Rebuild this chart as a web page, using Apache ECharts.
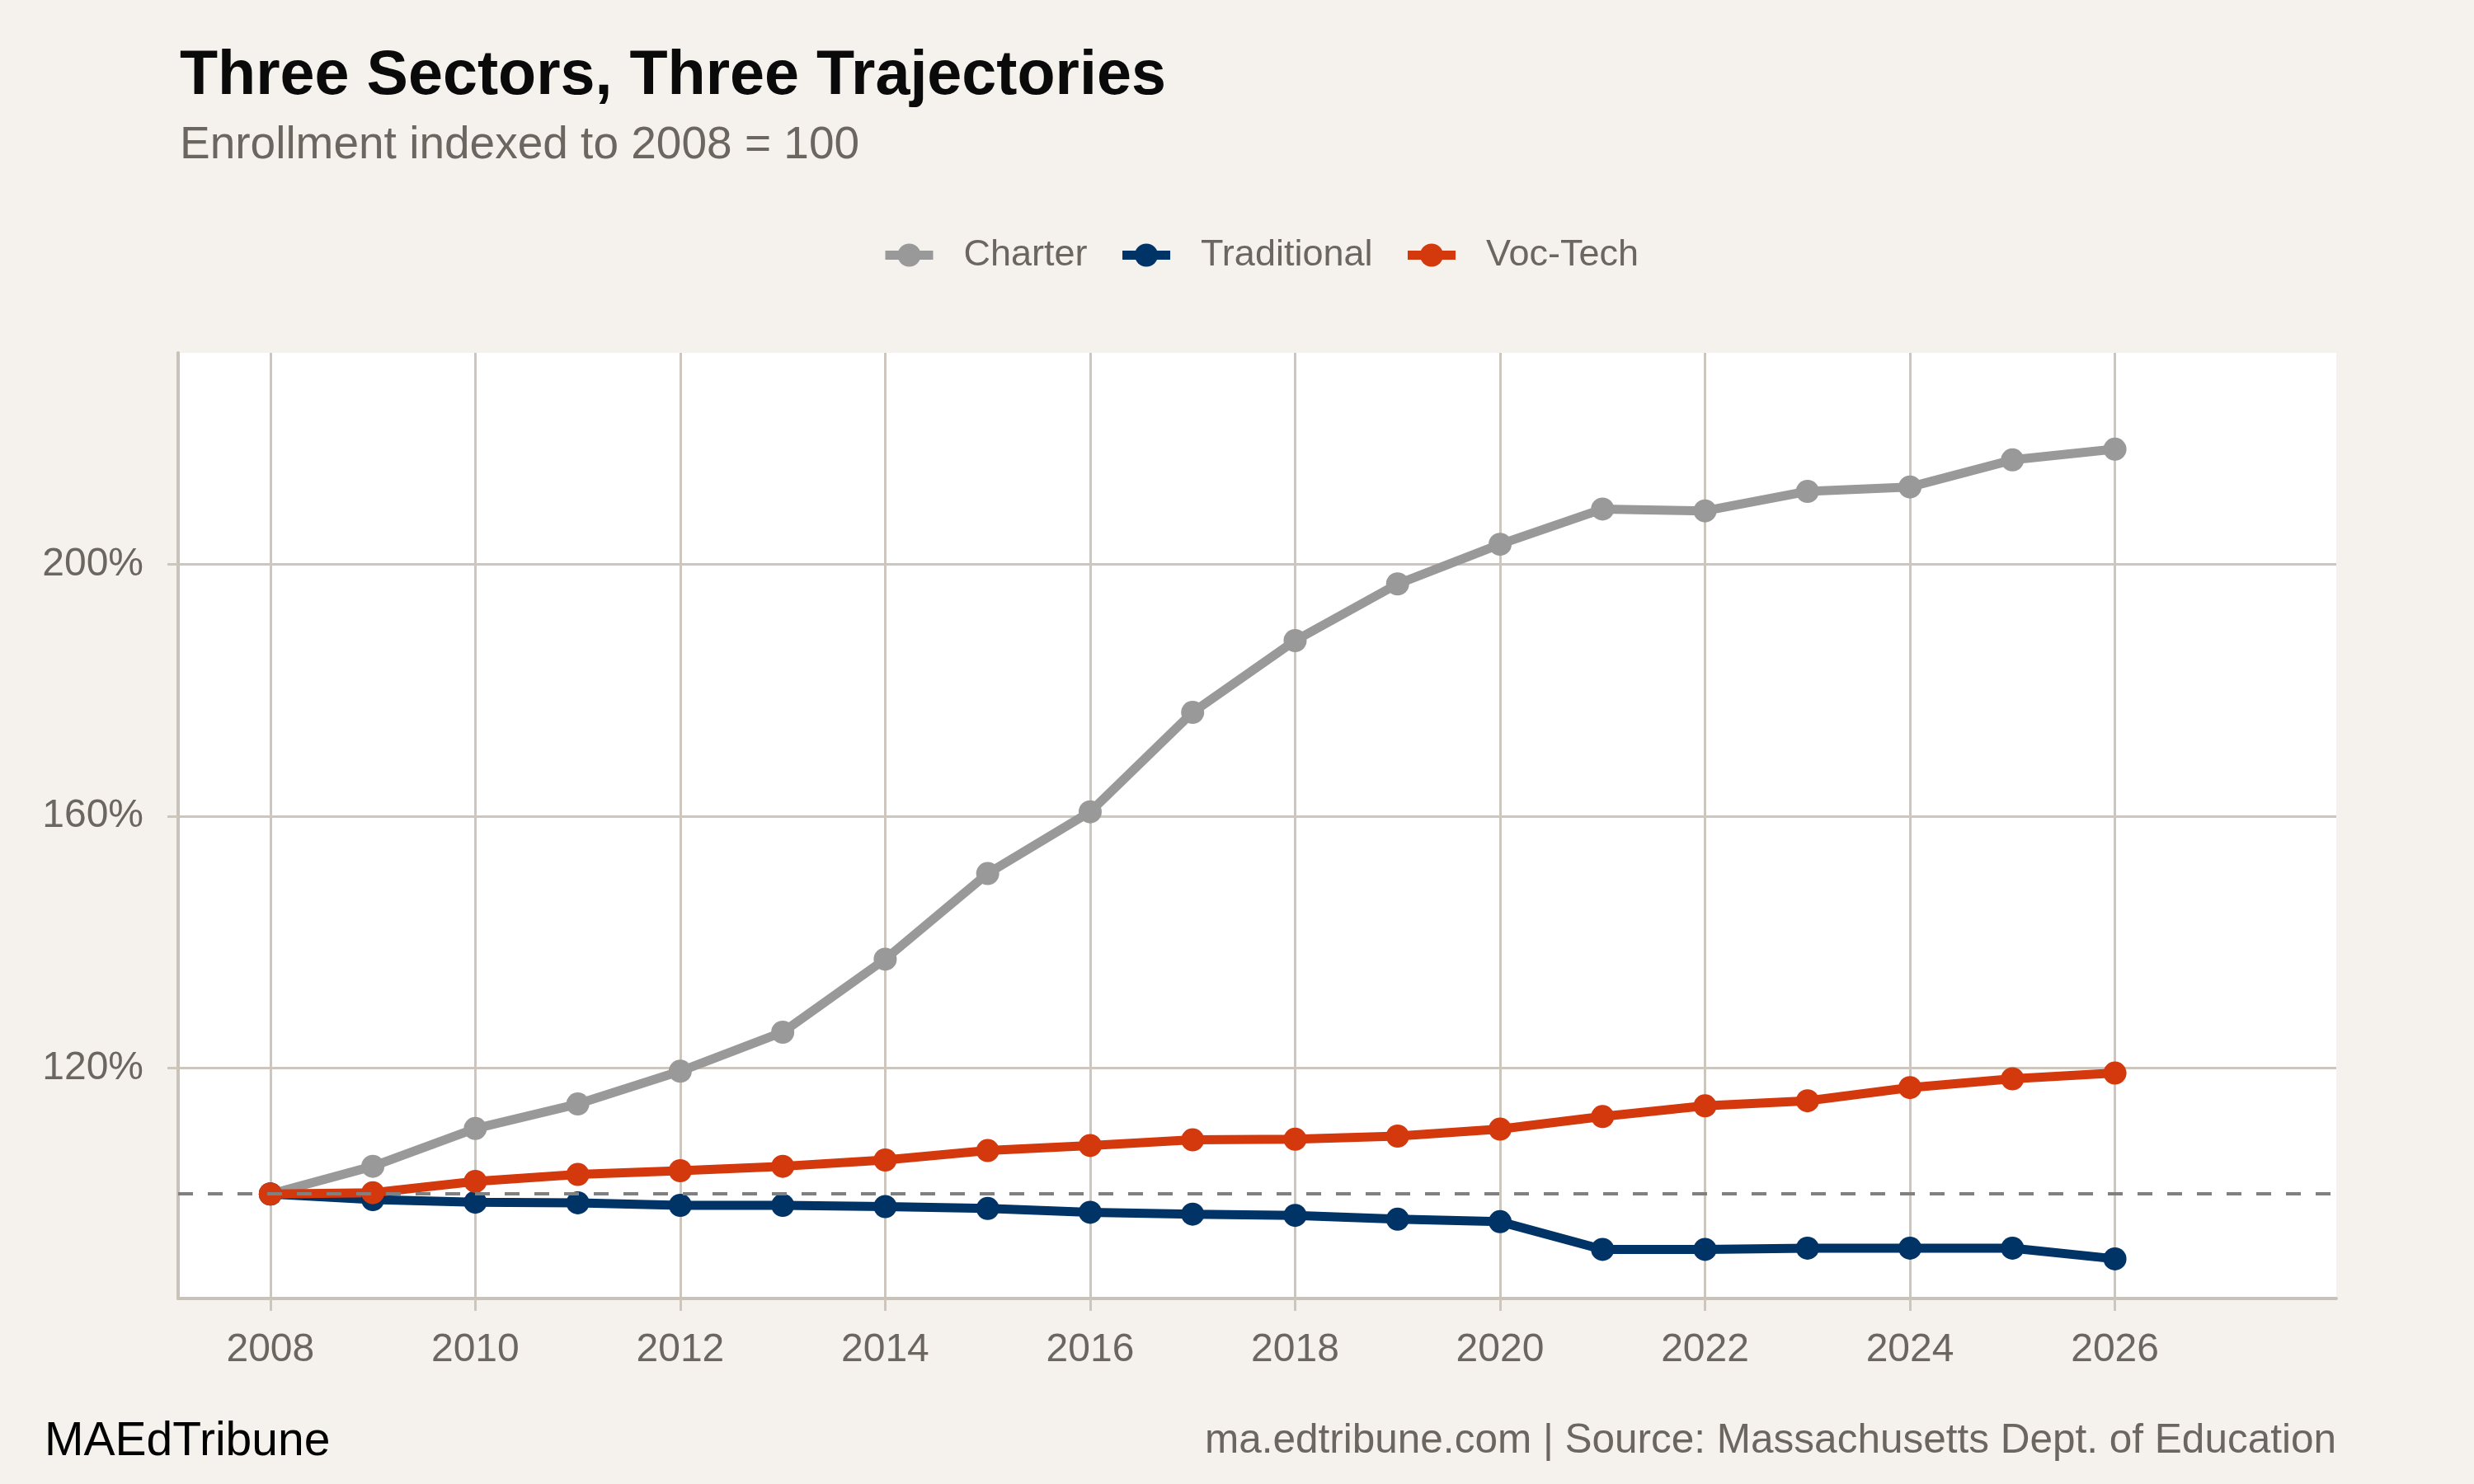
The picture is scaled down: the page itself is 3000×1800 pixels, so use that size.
<!DOCTYPE html>
<html>
<head>
<meta charset="utf-8">
<script src="https://cdn.jsdelivr.net/npm/echarts@6/dist/echarts.min.js"></script>
<style>
html,body{margin:0;padding:0;background:#F5F2ED;}
#chart{width:3000px;height:1800px;}
</style>
</head>
<body>
<div id="chart"></div>
<script>
const years = [2008,2009,2010,2011,2012,2013,2014,2015,2016,2017,2018,2019,2020,2021,2022,2023,2024,2025,2026];
const charter = [100,104.4,110.4,114.3,119.5,125.7,137.3,150.9,160.7,176.5,187.9,196.9,203.2,208.8,208.5,211.6,212.3,216.6,218.3];
const traditional = [100,99.1,98.7,98.6,98.2,98.2,98.0,97.7,97.1,96.8,96.6,96.0,95.6,91.2,91.2,91.4,91.4,91.4,89.7];
const vocTech = [100,100.2,102.0,103.1,103.7,104.4,105.4,106.9,107.7,108.6,108.7,109.2,110.3,112.3,114.0,114.8,116.9,118.3,119.2];
const xTicks = [2008,2010,2012,2014,2016,2018,2020,2022,2024,2026];
const yTicks = [120,160,200];
const baseline = 100;

const FONT = '"Liberation Sans", Arial, Helvetica, sans-serif';
const GRAY_TXT = '#6B6660';
const GRIDC = '#CCC6BC';

function pairs(vals){ return years.map((y,i)=>[y, vals[i]]); }

function lineSeries(name, color, vals, extra){
  return Object.assign({
    name: name,
    type: 'line',
    data: pairs(vals),
    symbol: 'circle',
    symbolSize: 28,
    showSymbol: true,
    lineStyle: {color: color, width: 11},
    itemStyle: {color: color, borderWidth: 0},
    emphasis: {disabled: true},
    z: 3
  }, extra || {});
}

const chart = echarts.init(document.getElementById('chart'), null, {renderer: 'canvas'});
chart.setOption({
  animation: false,
  backgroundColor: '#F5F2ED',
  textStyle: {fontFamily: FONT},
  title: [
    {text: 'Three Sectors, Three Trajectories', left: 218, top: 55, padding: 0,
     textStyle: {fontFamily: FONT, fontSize: 75.5, fontWeight: 'bold', color: '#0A0A0A'}},
    {text: 'Enrollment indexed to 2008 = 100', left: 218, top: 149, padding: 0,
     textStyle: {fontFamily: FONT, fontSize: 55, fontWeight: 'normal', color: GRAY_TXT}},
    {text: 'MAEdTribune', left: 54, top: 1721, padding: 0,
     textStyle: {fontFamily: FONT, fontSize: 57, fontWeight: 'normal', color: '#000000'}},
    {text: 'ma.edtribune.com | Source: Massachusetts Dept. of Education', right: 167, top: 1723, padding: 0,
     textStyle: {fontFamily: FONT, fontSize: 49.5, fontWeight: 'normal', color: GRAY_TXT}}
  ],
  legend: {
    data: ['Charter','Traditional','Voc-Tech'],
    left: 1068, top: 287, padding: 0,
    itemWidth: 58, itemHeight: 35, itemGap: 37,
    lineStyle: {width: 11},
    textStyle: {fontFamily: FONT, fontSize: 45, color: GRAY_TXT, padding: [0,0,0,32]},
    selectedMode: false
  },
  grid: {
    left: 216, right: 167, top: 428, bottom: 225,
    show: true, backgroundColor: '#FFFFFF', borderWidth: 0,
    containLabel: false
  },
  xAxis: {
    type: 'value', min: 2007.1, max: 2028.16,
    axisLine: {show: true, lineStyle: {color: '#C8C2B8', width: 4}},
    axisTick: {show: true, customValues: xTicks, length: 15, lineStyle: {color: GRIDC, width: 3}},
    axisLabel: {customValues: xTicks, margin: 39, fontSize: 48, color: GRAY_TXT, fontFamily: FONT,
      formatter: v => String(v)},
    splitLine: {show: true, lineStyle: {color: GRIDC, width: 3}}
  },
  yAxis: {
    type: 'value', min: 83.4, max: 233.6,
    axisLine: {show: true, lineStyle: {color: '#C8C2B8', width: 4}},
    axisTick: {show: true, customValues: yTicks, length: 13, lineStyle: {color: GRIDC, width: 3}},
    axisLabel: {customValues: yTicks, margin: 42, fontSize: 48, color: GRAY_TXT, fontFamily: FONT,
      formatter: v => v + '%'},
    splitLine: {show: true, lineStyle: {color: GRIDC, width: 3}}
  },
  series: [
    lineSeries('Charter', '#999999', charter, {
      markLine: {
        silent: true, symbol: ['none','none'], label: {show: false},
        lineStyle: {color: '#808080', width: 4, type: [18,18]},
        emphasis: {disabled: true},
        data: [{yAxis: baseline}]
      }
    }),
    lineSeries('Traditional', '#003366', traditional),
    lineSeries('Voc-Tech', '#D4380D', vocTech)
  ]
});
</script>
</body>
</html>
